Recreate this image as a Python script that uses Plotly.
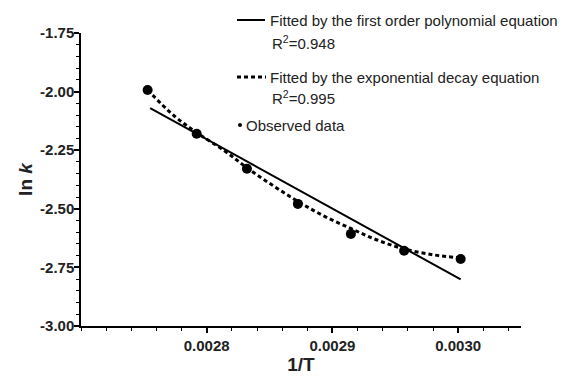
import plotly.graph_objects as go

# Observed data (1/T, ln k)
obs_x = [0.002753, 0.002792, 0.002832, 0.0028725, 0.0029147, 0.002957, 0.003002]
obs_y = [-1.993, -2.180, -2.329, -2.479, -2.607, -2.679, -2.714]

# First order polynomial fit (end points of the fitted line)
lin_x = [0.002755, 0.003002]
lin_y = [-2.070, -2.801]

# Exponential decay fit
exp_x = [0.002753, 0.002774, 0.002792, 0.002814, 0.002832, 0.002853, 0.002873,
         0.002893, 0.002915, 0.002935, 0.002957, 0.002981, 0.003002]
exp_y = [-1.993, -2.103, -2.175, -2.252, -2.325, -2.402, -2.470,
         -2.530, -2.585, -2.632, -2.671, -2.697, -2.709]

x_ticks = [0.0028, 0.0029, 0.0030]
x_ticktext = ["0.0028", "0.0029", "0.0030"]
y_ticks = [-3.0, -2.75, -2.5, -2.25, -2.0, -1.75]
y_ticktext = ["-3.00", "-2.75", "-2.50", "-2.25", "-2.00", "-1.75"]

legend_labels = ["Fitted by the first order polynomial equation",
                 "R<sup>2</sup>=0.948",
                 "Fitted by the exponential decay equation",
                 "R<sup>2</sup>=0.995",
                 "Observed data"]

FONT = "Liberation Sans, Arial, sans-serif"

fig = go.Figure()
fig.add_trace(go.Scatter(x=lin_x, y=lin_y, mode="lines",
                         line=dict(color="black", width=2), showlegend=False))
fig.add_trace(go.Scatter(x=exp_x, y=exp_y, mode="lines", line_shape="spline",
                         line=dict(color="black", width=3, dash="4px,3px"),
                         showlegend=False))
fig.add_trace(go.Scatter(x=obs_x, y=obs_y, mode="markers",
                         marker=dict(color="black", size=10), showlegend=False))

# legend built from shapes + annotations
W, H = 440.0, 293.0
def px(p):
    return (p - 81) / W
def py(p):
    return (326 - p) / H

fig.add_shape(type="line", xref="paper", yref="paper", x0=px(237), x1=px(265),
              y0=py(20), y1=py(20), line=dict(color="black", width=2))
fig.add_shape(type="line", xref="paper", yref="paper", x0=px(237), x1=px(266),
              y0=py(77), y1=py(77), line=dict(color="black", width=3, dash="4px,3px"))

ann_pos = [(268, 20), (270, 42), (268, 77), (270, 97), (244, 125)]
for (ax, ay), txt in zip(ann_pos, legend_labels):
    fig.add_annotation(xref="paper", yref="paper", x=px(ax), y=py(ay),
                       xanchor="left", yanchor="middle", showarrow=False,
                       text=txt, font=dict(family=FONT, size=15, color="#222"))
fig.add_shape(type="circle", xref="paper", yref="paper",
              x0=px(238), x1=px(242), y0=py(127), y1=py(123),
              fillcolor="black", line=dict(color="black", width=0))

axis_common = dict(showline=True, linecolor="black", linewidth=1.5, showgrid=False,
                   zeroline=False, ticks="outside", ticklen=5, tickwidth=1.5,
                   tickcolor="black", automargin=False,
                   tickfont=dict(family=FONT, size=15, color="#222", weight="bold"))

fig.update_xaxes(range=[0.0027, 0.00305], tickmode="array", tickvals=x_ticks,
                 ticktext=x_ticktext,
                 minor=dict(ticks="outside", ticklen=3, tickwidth=1.2, tickcolor="black",
                            tick0=0.0027, dtick=0.00002, showgrid=False),
                 title=dict(text="1/T", font=dict(family=FONT, size=19, color="#222",
                                                  weight="bold"), standoff=3),
                 **axis_common)
fig.update_yaxes(range=[-3.0, -1.75], tickmode="array", tickvals=y_ticks,
                 ticktext=y_ticktext, ticklabelstandoff=-3,
                 minor=dict(ticks="outside", ticklen=3, tickwidth=1.2, tickcolor="black",
                            tick0=-3.0, dtick=0.05, showgrid=False),
                 title=dict(text="ln <i>k</i>", font=dict(family=FONT, size=19, color="#222",
                                                          weight="bold"), standoff=2),
                 **axis_common)

fig.update_layout(width=561, height=377, margin=dict(l=81, r=40, t=33, b=51),
                  plot_bgcolor="white", paper_bgcolor="white")

fig.write_html("out.html", config={"displayModeBar": False},
               post_script="document.body.style.margin='0';document.body.style.padding='0';")
